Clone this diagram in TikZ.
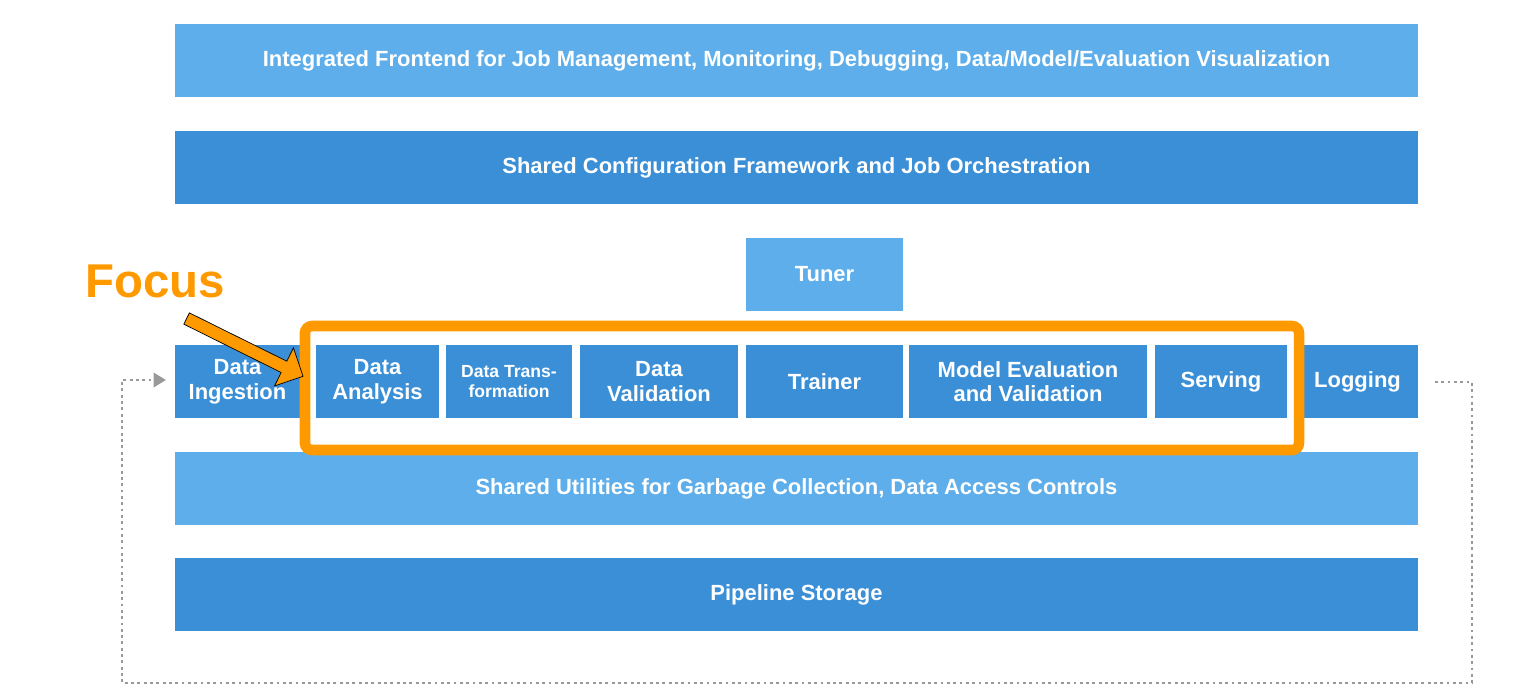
\documentclass[tikz,border=0pt]{standalone}
\usepackage{fontspec}
\setmainfont{Liberation Sans}
\usepackage{xcolor}
\usetikzlibrary{arrows.meta}
\usetikzlibrary{shapes.arrows}
\definecolor{lightblue}{HTML}{5DAEEA}
\definecolor{darkblue}{HTML}{3A8FD7}
\definecolor{focusorange}{HTML}{FF9900}
\tikzset{
	layer/.style={fill=#1, text=white, font=\bfseries\fontsize{12.5}{14}\selectfont, align=center, inner sep=0pt},
	comp/.style={layer=darkblue, minimum height=1.46cm}
}
\begin{document}
\begin{tikzpicture}[x=0.02cm, y=-0.02cm]
	\useasboundingbox (0,0) rectangle (1530,698);
	
	\node[layer=lightblue, minimum width=24.86cm, minimum height=1.46cm] (frontend) at (796.5,60.5) {Integrated Frontend for Job Management, Monitoring, Debugging, Data/Model/Evaluation Visualization};
	\node[layer=darkblue, minimum width=24.86cm, minimum height=1.46cm] (config) at (796.5,167.5) {Shared Configuration Framework and Job Orchestration};
	\node[layer=lightblue, minimum width=3.14cm, minimum height=1.46cm] (tuner) at (824.5,274.5) {Tuner};
	
	% component row
	\node[comp, minimum width=2.5cm] (ingest) at (237.5,381.5) {Data\\Ingestion};
	\node[comp, minimum width=2.46cm] (analysis) at (377.5,381.5) {Data\\Analysis};
	\node[comp, minimum width=2.52cm, font=\bfseries\fontsize{10}{11}\selectfont] (transform) at (509,381.5) {Data Trans-\\formation};
	\node[comp, minimum width=3.16cm] (validation) at (659,381.5) {Data\\Validation};
	\node[comp, minimum width=3.14cm] (trainer) at (824.5,381.5) {Trainer};
	\node[comp, minimum width=4.76cm] (modeleval) at (1028,381.5) {Model Evaluation\\and Validation};
	\node[comp, minimum width=2.64cm] (serving) at (1221,381.5) {Serving};
	\node[comp, minimum width=2.42cm] (logging) at (1357.5,381.5) {Logging};
	
	\node[layer=lightblue, minimum width=24.86cm, minimum height=1.46cm] (utils) at (796.5,488.5) {Shared Utilities for Garbage Collection, Data Access Controls};
	\node[layer=darkblue, minimum width=24.86cm, minimum height=1.46cm] (storage) at (796.5,594.5) {Pipeline Storage};
	
	% focus frame
	\draw[focusorange, line width=6pt, rounded corners=4pt] (305,326) rectangle (1299,450);
	\node[text=focusorange, font=\bfseries\fontsize{27}{30}\selectfont] (focus) at (155,281) {Focus};
	\node[single arrow, draw=black, fill=focusorange, minimum height=2.6cm, minimum width=0.85cm,
		single arrow head extend=0.1cm, inner sep=1pt, rotate=-26.4] (pointer) at (242,346) {};
	
	% feedback loop
	\coordinate (loopstart) at (1435,382);
	\coordinate (loopend) at (166,380);
	\draw[gray!80, line width=1.6pt, dotted, -{Triangle[length=7pt,width=8pt]}]
		(loopstart) -- (1472,382) -- (1472,683) -- (122,683) -- (122,380) -- (loopend);
\end{tikzpicture}
\end{document}
